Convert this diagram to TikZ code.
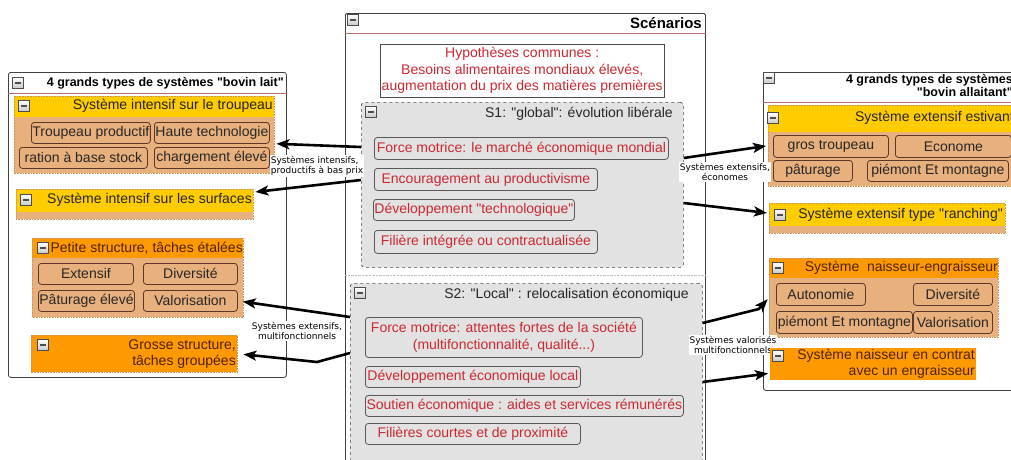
\documentclass[tikz,border=0pt]{standalone}
\usepackage{fontspec}
\setmainfont{Liberation Sans}[Ligatures=TeXOff]
\newfontfamily\labelfont{DejaVu Sans}[Ligatures=TeXOff]
\usetikzlibrary{arrows.meta}

\definecolor{yellowhd}{RGB}{255,204,0}
\definecolor{orangehd}{RGB}{255,153,0}
\definecolor{tanbody}{RGB}{232,176,125}
\definecolor{itemline}{RGB}{90,55,40}
\definecolor{subdots}{RGB}{205,150,90}
\definecolor{titleline}{RGB}{185,110,110}
\definecolor{scenred}{RGB}{205,40,50}
\definecolor{scengray}{RGB}{226,226,226}
\definecolor{scenhead}{RGB}{234,234,234}
\definecolor{darkbrown}{RGB}{80,35,5}

\tikzset{
  txt/.style={font=\fontsize{14}{16.5}\selectfont, inner sep=0pt},
  ttl/.style={font=\bfseries\fontsize{12.5}{13.5}\selectfont, inner sep=0pt, align=right},
  panel/.style={draw=black!75, fill=white, rounded corners=2.5pt, line width=0.8pt, anchor=north west, inner sep=0pt},
  subbody/.style={fill=tanbody, anchor=north west, inner sep=0pt},
  yhead/.style={fill=yellowhd, anchor=north west, inner sep=0pt},
  ohead/.style={fill=orangehd, anchor=north west, inner sep=0pt},
  subedge/.style={draw=subdots, densely dotted, line width=0.6pt},
  item/.style={txt, draw=itemline, fill=tanbody, rounded corners=3pt, anchor=north west, inner xsep=1pt, minimum height=21pt, line width=0.8pt, text=black!85},
  sitem/.style={item, fill=scengray, draw=black!65, text=scenred},
  scen/.style={draw=black!70, dashed, fill=scengray, rounded corners=3pt, anchor=north west, inner sep=0pt, line width=0.7pt},
  collapse/.style={draw=black!70, minimum size=11pt, inner sep=0pt, top color=white, bottom color=black!22,
    path picture={\draw[line width=1.4pt] ([xshift=2.5pt]path picture bounding box.west) -- ([xshift=-2.5pt]path picture bounding box.east);}},
  arrowlabel/.style={font=\labelfont\fontsize{9}{10.5}\selectfont, fill=white, inner sep=1pt, align=center},
  feed/.style={line width=2.6pt, -{Stealth[length=13pt,width=10pt,inset=3pt]}, shorten >=2pt},
}

\begin{document}
\begin{tikzpicture}[x=1pt,y=-1pt]
\useasboundingbox (0,0) rectangle (1011,459);
\clip (0,0) rectangle (1011,459);

% bovin lait
\node[panel, minimum width=278pt, minimum height=305pt] (lait) at (8,72) {};
\node[collapse] (lait-i) at (18,83) {};
\node[ttl, anchor=east] (lait-t) at (284,83) {4 grands types de systèmes "bovin lait"};
\draw[titleline] ([yshift=-21pt]lait.north west) -- ([yshift=-21pt]lait.north east);

\node[subbody, minimum width=260pt, minimum height=77pt] (ist) at (14,96) {};
\node[yhead, minimum width=260pt, minimum height=21pt] (ist-h) at (ist.north west) {};
\draw[subedge] (ist.north west) rectangle (ist.south east);
\node[collapse] (ist-i) at (24,106) {};
\node[txt, anchor=east, text=black!85] (ist-t) at (273,106) {Système intensif sur le troupeau};
\node[item, minimum width=117pt] (tp) at (31,122) {Troupeau productif};
\node[item, minimum width=115pt] (ht) at (154,122) {Haute technologie};
\node[item, minimum width=128pt] (rb) at (19,147) {ration à base stock};
\node[item, minimum width=115pt] (ce) at (154,147) {chargement élevé};

\node[subbody, minimum width=237pt, minimum height=30pt] (iss) at (16,189) {};
\node[yhead, minimum width=237pt, minimum height=23pt] (iss-h) at (iss.north west) {};
\draw[subedge] (iss.north west) rectangle (iss.south east);
\node[collapse] (iss-i) at (26,200) {};
\node[txt, anchor=east, text=black!85] (iss-t) at (252,200) {Système intensif sur les surfaces};

\node[subbody, minimum width=211pt, minimum height=79pt] (pst) at (32,238) {};
\node[ohead, minimum width=211pt, minimum height=20pt] (pst-h) at (pst.north west) {};
\draw[subedge] (pst.north west) rectangle (pst.south east);
\node[collapse] (pst-i) at (43,248) {};
\node[txt, anchor=east, text=darkbrown] (pst-t) at (243,248) {Petite structure, tâches étalées};
\node[item, minimum width=95pt] (ext) at (38,263) {Extensif};
\node[item, minimum width=94pt] (div) at (143,263) {Diversité};
\node[item, minimum width=95pt] (pat) at (38,290) {Pâturage élevé};
\node[item, minimum width=94pt] (val) at (143,290) {Valorisation};

\node[ohead, minimum width=206pt, minimum height=37pt] (gst) at (31,335) {};
\draw[subedge] (gst.north west) rectangle (gst.south east);
\node[collapse] (gst-i) at (43,345) {};
\node[txt, anchor=east, align=right, text=darkbrown] (gst-t) at (236,354) {Grosse structure,\\tâches groupées};

% scenarios
\node[panel, rounded corners=1.5pt, minimum width=360pt, minimum height=460pt] (scen) at (345,13) {};
\node[collapse] (scen-i) at (353,20) {};
\node[ttl, anchor=east, font=\bfseries\fontsize{15}{16}\selectfont] (scen-t) at (702,23) {Scénarios};
\draw[titleline] ([yshift=-20pt]scen.north west) -- ([yshift=-20pt]scen.north east);
\node[txt, draw=black!70, fill=white, align=center, text=scenred, minimum width=284pt, minimum height=53pt, anchor=north west] (hyp) at (380,44)
  {Hypothèses communes :\\Besoins alimentaires mondiaux élevés,\\augmentation du prix des matières premières};

\node[scen, minimum width=322pt, minimum height=165pt] (s1) at (361,102) {};
\node[collapse] (s1-i) at (371,112) {};
\node[txt, anchor=east, text=black!85] (s1-t) at (673,114) {S1: "global": évolution libérale};
\node[sitem, minimum width=294pt, minimum height=22pt] (fm1) at (374,137) {Force motrice: le marché économique mondial};
\node[sitem, minimum width=223pt, minimum height=22pt] (enc) at (374,168) {Encouragement au productivisme};
\node[sitem, minimum width=199pt] (dev) at (373,199) {Développement "technologique"};
\node[sitem, minimum width=223pt, minimum height=23pt] (fil) at (374,230) {Filière intégrée ou contractualisée};

\draw[black!25, densely dotted] ([yshift=-262pt]scen.north west) -- ([yshift=-262pt]scen.north east);

\node[scen, minimum width=352pt, minimum height=200pt] (s2) at (350,283) {};
\node[collapse] (s2-i) at (360,293) {};
\node[txt, anchor=east, text=black!85] (s2-t) at (689,295) {S2: "Local" : relocalisation économique};
\node[sitem, align=center, minimum width=277pt, minimum height=40pt] (fm2) at (365,317) {Force motrice: attentes fortes de la société\\(multifonctionnalité, qualité...)};
\node[sitem, minimum width=215pt] (del) at (365,366) {Développement économique local};
\node[sitem, minimum width=318pt] (sou) at (365,395) {Soutien économique : aides et services rémunérés};
\node[sitem, minimum width=215pt] (fcp) at (365,423) {Filières courtes et de proximité};

% bovin allaitant
\node[panel, minimum width=270pt, minimum height=318pt] (alla) at (763,72) {};
\node[collapse] (alla-i) at (769,78) {};
\node[ttl, anchor=north east] (alla-t) at (1013,74) {4 grands types de systèmes\\"bovin allaitant"};
\draw[titleline] ([yshift=-30pt]alla.north west) -- ([yshift=-30pt]alla.north east);

\node[subbody, minimum width=250pt, minimum height=81pt] (est) at (768,105) {};
\node[yhead, minimum width=250pt, minimum height=27pt] (est-h) at (est.north west) {};
\draw[subedge] (est.north west) rectangle (est.south east);
\node[collapse] (est-i) at (773,118) {};
\node[txt, anchor=east, text=black!85] (est-t) at (1014,118) {Système extensif estivant};
\node[item, minimum width=115pt, minimum height=22pt] (gt) at (773,135) {gros troupeau};
\node[item, minimum width=116pt, minimum height=22pt] (eco) at (895,135) {Econome};
\node[item, minimum width=79pt] (pa) at (773,160) {pâturage};
\node[item, minimum width=141pt] (pm) at (867,160) {piémont Et montagne};

\node[subbody, minimum width=236pt, minimum height=30pt] (ran) at (769,203) {};
\node[yhead, minimum width=236pt, minimum height=23pt] (ran-h) at (ran.north west) {};
\draw[subedge] (ran.north west) rectangle (ran.south east);
\node[collapse] (ran-i) at (780,215) {};
\node[txt, anchor=east, text=black!85] (ran-t) at (1003,215) {Système extensif type "ranching"};

\node[subbody, minimum width=229pt, minimum height=79pt] (nai) at (769,258) {};
\node[ohead, minimum width=229pt, minimum height=20pt] (nai-h) at (nai.north west) {};
\draw[subedge] (nai.north west) rectangle (nai.south east);
\node[collapse] (nai-i) at (778,268) {};
\node[txt, anchor=east, text=darkbrown] (nai-t) at (998,268) {Système\ \ naisseur-engraisseur};
\node[item, minimum width=89pt, minimum height=22pt] (aut) at (776,283) {Autonomie};
\node[item, minimum width=79pt, minimum height=22pt] (div2) at (913,283) {Diversité};
\node[item, minimum width=136pt, minimum height=22pt] (pm2) at (776,311) {piémont Et montagne};
\node[item, minimum width=79pt, minimum height=22pt] (val2) at (913,311) {Valorisation};

\node[arrowlabel] (lab-val) at (733,345) {Systèmes valorisés\\multifonctionnels};

\node[ohead, minimum width=206pt, minimum height=32pt] (con) at (770,348) {};
\node[collapse] (con-i) at (778,356) {};
\node[txt, anchor=east, align=right, text=darkbrown] (con-t) at (975,364) {Système naisseur en contrat\\avec un engraisseur};

% arrows
\draw[feed] ([yshift=-45pt]s1.north west) -- ([yshift=-9pt]ist.east);
\draw[feed] ([yshift=-78pt]s1.north west) -- ([yshift=12pt]iss.east);
\draw[feed, shorten >=5pt] ([yshift=-34pt]s2.north west) -- (val.east);
\draw[feed, shorten >=6pt] ([yshift=-70pt]s2.north west) -- ++(-33,9) -- (gst.east);
\draw[feed] ([yshift=-56pt]s1.north east) -- (est.west);
\draw[feed] ([yshift=-101pt]s1.north east) -- ([yshift=5pt]ran.west);
\draw[feed] ([yshift=-40pt]s2.north east) -- ++(56,-14) -- (nai.west);
\draw[feed] ([yshift=-99pt]s2.north east) -- ([yshift=-9pt]con.west);

\node[arrowlabel, align=left] (lab-int) at (317,166) {Systèmes intensifs,\\productifs à bas prix};
\node[arrowlabel] (lab-ext) at (297,331) {Systèmes extensifs,\\multifonctionnels};
\node[arrowlabel] (lab-eco) at (725,172) {Systèmes extensifs,\\économes};
\end{tikzpicture}
\end{document}
